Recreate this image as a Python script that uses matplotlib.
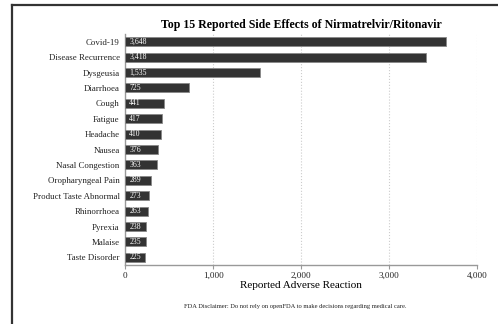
import matplotlib.pyplot as plt
from matplotlib.lines import Line2D

effects = ["Covid-19", "Disease Recurrence", "Dysgeusia", "Diarrhoea", "Cough",
           "Fatigue", "Headache", "Nausea", "Nasal Congestion", "Oropharyngeal Pain",
           "Product Taste Abnormal", "Rhinorrhoea", "Pyrexia", "Malaise", "Taste Disorder"]
counts = [3648, 3418, 1535, 725, 441, 417, 410, 376, 363, 289, 273, 263, 238, 235, 225]
xticks = [0, 1000, 2000, 3000, 4000]

plt.rcParams['font.family'] = ['Liberation Serif', 'DejaVu Serif']

fig = plt.figure(figsize=(4.98, 3.24), dpi=100)
ax = fig.add_axes([0.2516, 0.182, 0.7064, 0.713])

ypos = list(range(len(effects)))
ax.barh(ypos, counts, height=0.58, color='#333333', edgecolor='#888888', linewidth=0.6, zorder=3)
for y, v in zip(ypos, counts):
    ax.text(45, y, f"{v:,}", color='white', fontsize=5.6, va='center', ha='left', zorder=4)

ax.set_ylim(len(effects) - 0.5, -0.5)
ax.set_xlim(0, 4000)
ax.set_yticks(ypos)
ax.set_yticklabels(effects, fontsize=6.4, color='#222222')
ax.set_xticks(xticks)
ax.set_xticklabels([f"{t:,}" for t in xticks], fontsize=6.6, color='#222222')
ax.tick_params(axis='y', length=0, pad=4)
ax.tick_params(axis='x', length=3, color='#999999', pad=2)
ax.grid(axis='x', color='#cccccc', linestyle=':', linewidth=0.8, zorder=0)

for side in ['top', 'right']:
    ax.spines[side].set_visible(False)
for side in ['left', 'bottom']:
    ax.spines[side].set_color('#999999')
    ax.spines[side].set_linewidth(1.0)

ax.set_title("Top 15 Reported Side Effects of Nirmatrelvir/Ritonavir",
             fontsize=8.6, fontweight='bold', pad=4)
ax.set_xlabel("Reported Adverse Reaction", fontsize=8, labelpad=1)

fig.text(0.593, 0.053, "FDA Disclaimer: Do not rely on openFDA to make decisions regarding medical care.",
         fontsize=4.7, ha='center', va='center', color='#222222')

# outer frame (top and left edges)
fig.add_artist(Line2D([12 / 498, 12 / 498], [0, 1 - 5 / 324], color='#333333', linewidth=1.6))
fig.add_artist(Line2D([12 / 498, 1], [1 - 5 / 324, 1 - 5 / 324], color='#333333', linewidth=1.6))

fig.savefig("out.png", dpi=100)
